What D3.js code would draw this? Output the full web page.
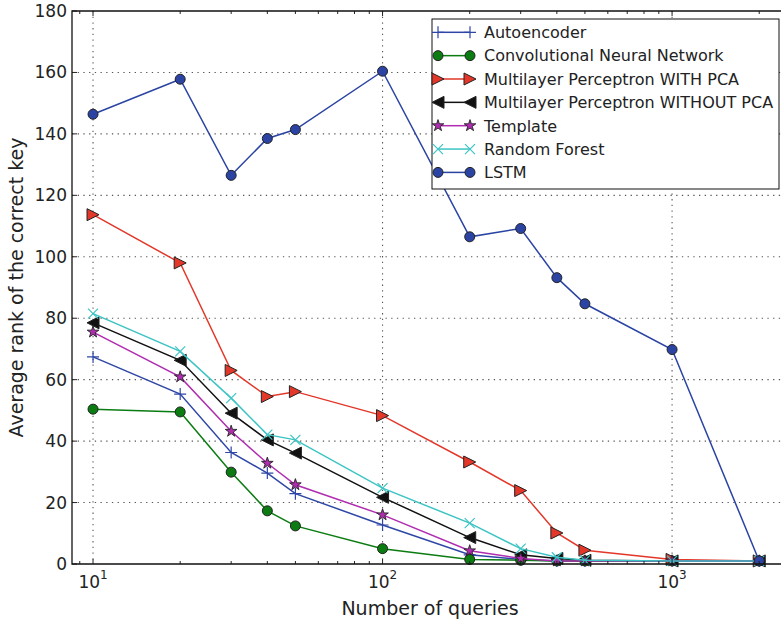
<!DOCTYPE html>
<html>
<head>
<meta charset="utf-8">
<script src="https://cdn.jsdelivr.net/npm/d3@7"></script>
<style>
  body { margin: 0; background: #fff; }
  text { font-family: "DejaVu Sans", sans-serif; fill: #222; }
</style>
</head>
<body>
<div id="chart"></div>
<script>
// Data
const queries = [10, 20, 30, 40, 50, 100, 200, 300, 400, 500, 1000, 2000];
const autoencoder = [67.4, 55.3, 36.3, 29.6, 22.9, 12.7, 3.0, 1.5, 1.0, 1.0, 1.0, 1.0];
const cnn = [50.4, 49.5, 29.9, 17.3, 12.4, 5.0, 1.5, 1.2, 1.0, 1.0, 1.0, 1.0];
const mlpPca = [113.7, 98.0, 63.0, 54.5, 56.1, 48.3, 33.2, 23.9, 10.1, 4.5, 1.5, 1.0];
const mlpNoPca = [78.5, 66.3, 49.1, 40.4, 36.1, 21.7, 8.6, 3.0, 1.8, 1.2, 1.0, 1.0];
const template = [75.5, 60.9, 43.2, 32.8, 25.8, 16.0, 4.3, 1.8, 1.0, 1.0, 1.0, 1.0];
const randomForest = [81.5, 69.2, 54.0, 42.1, 40.4, 24.7, 13.3, 5.0, 2.2, 1.2, 1.0, 1.0];
const lstm = [146.4, 157.8, 126.5, 138.5, 141.4, 160.4, 106.5, 109.2, 93.2, 84.7, 69.8, 1.0];
const yTicks = [0, 20, 40, 60, 80, 100, 120, 140, 160, 180];
const xMajor = [10, 100, 1000];

const series = [
  { name: "Autoencoder", values: autoencoder, color: "#2e47a6", marker: "plus" },
  { name: "Convolutional Neural Network", values: cnn, color: "#0b7c12", marker: "circle" },
  { name: "Multilayer Perceptron WITH PCA", values: mlpPca, color: "#e3372a", marker: "triRight" },
  { name: "Multilayer Perceptron WITHOUT PCA", values: mlpNoPca, color: "#111111", marker: "triLeft" },
  { name: "Template", values: template, color: "#b02cb0", marker: "star" },
  { name: "Random Forest", values: randomForest, color: "#3cc4c4", marker: "cross" },
  { name: "LSTM", values: lstm, color: "#2b44a3", marker: "circle" }
];

const W = 781, H = 624;
const pLeft = 72, pTop = 11, pBottom = 564, pRight = 785;

const svg = d3.select("#chart").append("svg")
  .attr("width", W).attr("height", H);
svg.append("rect").attr("width", W).attr("height", H).attr("fill", "#fff");

const x = d3.scaleLog().domain([8.46, 2455]).range([pLeft, pRight]);
const y = d3.scaleLinear().domain([0, 180]).range([pBottom, pTop]);

const plot = svg.append("g");

// grid
plot.selectAll(".gx").data(xMajor).enter().append("line")
  .attr("x1", d => x(d)).attr("x2", d => x(d))
  .attr("y1", pTop).attr("y2", pBottom)
  .attr("stroke", "#555").attr("stroke-width", 1.1).attr("stroke-dasharray", "1.3,4.4");
plot.selectAll(".gy").data(yTicks.slice(1, -1)).enter().append("line")
  .attr("x1", pLeft).attr("x2", pRight)
  .attr("y1", d => y(d)).attr("y2", d => y(d))
  .attr("stroke", "#555").attr("stroke-width", 1.1).attr("stroke-dasharray", "1.3,4.4");

// minor ticks on log axis
const minor = [];
for (let e = 0; e <= 3; e++) {
  for (let m = 2; m <= 9; m++) {
    const v = m * Math.pow(10, e);
    if (v > x.domain()[0] && v < x.domain()[1]) minor.push(v);
  }
}
const ticksG = svg.append("g").attr("stroke", "#222").attr("stroke-width", 1);
minor.forEach(v => {
  ticksG.append("line").attr("x1", x(v)).attr("x2", x(v)).attr("y1", pBottom).attr("y2", pBottom - 3);
  ticksG.append("line").attr("x1", x(v)).attr("x2", x(v)).attr("y1", pTop).attr("y2", pTop + 3);
});
xMajor.forEach(v => {
  ticksG.append("line").attr("x1", x(v)).attr("x2", x(v)).attr("y1", pBottom).attr("y2", pBottom - 5);
  ticksG.append("line").attr("x1", x(v)).attr("x2", x(v)).attr("y1", pTop).attr("y2", pTop + 5);
});
yTicks.forEach(v => {
  ticksG.append("line").attr("x1", pLeft).attr("x2", pLeft + 5).attr("y1", y(v)).attr("y2", y(v));
});

// markers
function drawMarker(g, type, cx, cy, color) {
  if (type === "circle") {
    g.append("circle").attr("cx", cx).attr("cy", cy).attr("r", 5)
      .attr("fill", color).attr("stroke", "#222").attr("stroke-width", 1);
  } else if (type === "plus") {
    g.append("path").attr("d", `M${cx - 6},${cy}H${cx + 6}M${cx},${cy - 6}V${cy + 6}`)
      .attr("stroke", color).attr("stroke-width", 1.2).attr("fill", "none");
  } else if (type === "cross") {
    const r = 5;
    g.append("path").attr("d", `M${cx - r},${cy - r}L${cx + r},${cy + r}M${cx - r},${cy + r}L${cx + r},${cy - r}`)
      .attr("stroke", color).attr("stroke-width", 1.2).attr("fill", "none");
  } else if (type === "triRight" || type === "triLeft") {
    const s = type === "triRight" ? 1 : -1, r = 6;
    g.append("path").attr("d", `M${cx + s * r},${cy}L${cx - s * r},${cy - r}L${cx - s * r},${cy + r}Z`)
      .attr("fill", color).attr("stroke", "#222").attr("stroke-width", 1);
  } else if (type === "star") {
    g.append("path").attr("d", d3.symbol(d3.symbolStar, 42)())
      .attr("transform", `translate(${cx},${cy})`)
      .attr("fill", color).attr("stroke", "#222").attr("stroke-width", 0.9);
  }
}

const line = d3.line().x(d => x(d[0])).y(d => y(d[1]));
series.forEach(s => {
  const g = plot.append("g");
  const pts = queries.map((q, i) => [q, s.values[i]]);
  g.append("path").attr("d", line(pts)).attr("fill", "none")
    .attr("stroke", s.color).attr("stroke-width", 1.5);
  pts.forEach(p => drawMarker(g, s.marker, x(p[0]), y(p[1]), s.color));
});

// spines
svg.append("path")
  .attr("d", `M${pRight},${pTop}H${pLeft}V${pBottom}H${pRight}`)
  .attr("fill", "none").attr("stroke", "#111").attr("stroke-width", 1.3);

// tick labels
svg.selectAll(".yl").data(yTicks).enter().append("text")
  .attr("x", 67).attr("y", d => y(d) + 6)
  .attr("text-anchor", "end").style("font-size", "17px").text(d => d);
xMajor.forEach(v => {
  const t = svg.append("text").attr("x", x(v)).attr("y", 588)
    .attr("text-anchor", "middle").style("font-size", "17px");
  t.append("tspan").text("10");
  t.append("tspan").attr("dy", -9).style("font-size", "12px").text(Math.round(Math.log10(v)));
});

// axis labels
svg.append("text").attr("x", 430).attr("y", 615)
  .attr("text-anchor", "middle").style("font-size", "19px").text("Number of queries");
svg.append("text")
  .attr("transform", `translate(23,${(pTop + pBottom) / 2}) rotate(-90)`)
  .attr("text-anchor", "middle").style("font-size", "19px")
  .text("Average rank of the correct key");

// legend
const lg = svg.append("g");
lg.append("rect").attr("x", 432).attr("y", 19).attr("width", 347).attr("height", 170)
  .attr("fill", "#fff").attr("stroke", "#111").attr("stroke-width", 1);
series.forEach((s, i) => {
  const cy = 32.3 + i * 23.35;
  lg.append("line").attr("x1", 438).attr("x2", 470).attr("y1", cy).attr("y2", cy)
    .attr("stroke", s.color).attr("stroke-width", 1.5);
  drawMarker(lg, s.marker, 438, cy, s.color);
  drawMarker(lg, s.marker, 470, cy, s.color);
  lg.append("text").attr("x", 484).attr("y", cy + 5.8)
    .style("font-size", "16px").text(s.name);
});
</script>
</body>
</html>
